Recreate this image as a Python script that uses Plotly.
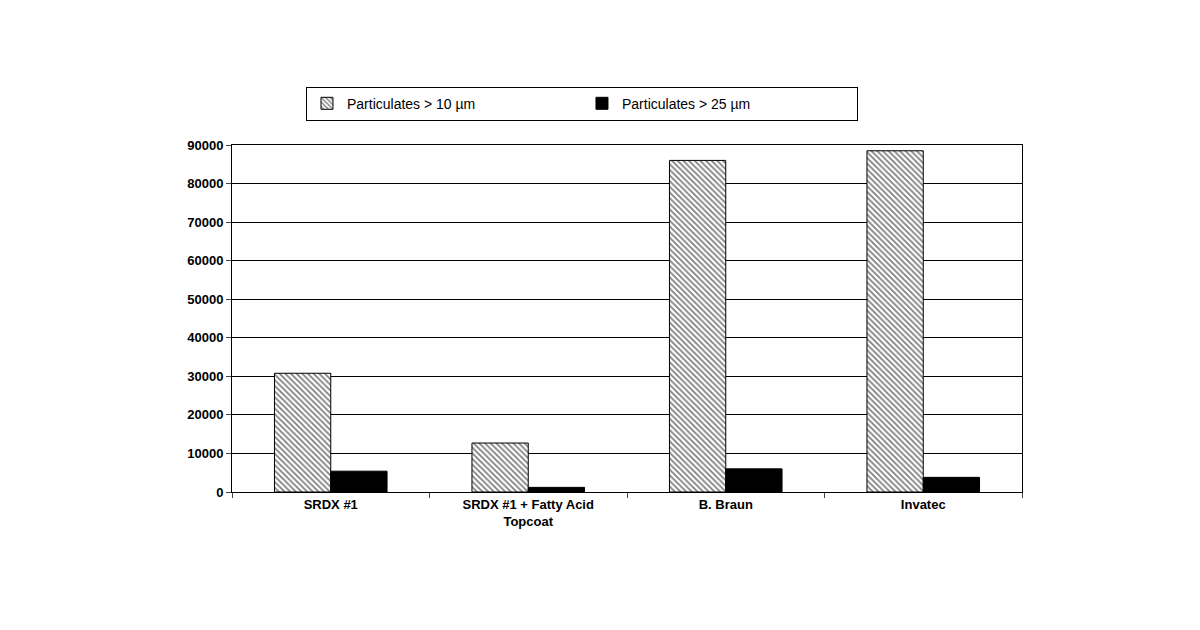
import plotly.graph_objects as go

categories = ["SRDX #1", "SRDX #1 + Fatty Acid<br>Topcoat", "B. Braun", "Invatec"]
over_10um = [30800, 12700, 86000, 88500]
over_25um = [5400, 1200, 6000, 3800]

fig = go.Figure()
fig.add_trace(go.Bar(
    x=categories, y=over_10um, name="Particulates > 10 µm",
    marker=dict(color="white", line=dict(color="black", width=1),
                pattern=dict(shape="\\", fgcolor="black", size=4, solidity=0.45)),
))
fig.add_trace(go.Bar(
    x=categories, y=over_25um, name="Particulates > 25 µm",
    marker=dict(color="black", line=dict(color="black", width=1)),
))

fig.update_layout(
    width=1200, height=630,
    template="simple_white",
    barmode="group", bargap=0.43, bargroupgap=0,
    margin=dict(l=224, r=186, t=137, b=146),
    font=dict(family="Arial, Liberation Sans", size=13, color="black"),
    legend=dict(orientation="h", x=0.443, xanchor="center", y=1.168, yanchor="top",
                bordercolor="black", borderwidth=1, font=dict(size=14, family="Arial"),
                itemwidth=30, entrywidthmode="pixels", entrywidth=230),
)
fig.update_yaxes(range=[0, 90000], dtick=10000, tickformat="d", showgrid=True,
                 gridcolor="black", gridwidth=1, mirror=True, showline=True,
                 linecolor="black", ticks="outside", automargin=False,
                 tickfont=dict(family="Arial", size=13, weight="bold"))
fig.update_xaxes(mirror=True, showline=True, linecolor="black", ticks="outside",
                 tickson="boundaries", automargin=False,
                 tickfont=dict(family="Arial", size=13, weight="bold"))

fig.write_html("out.html")
